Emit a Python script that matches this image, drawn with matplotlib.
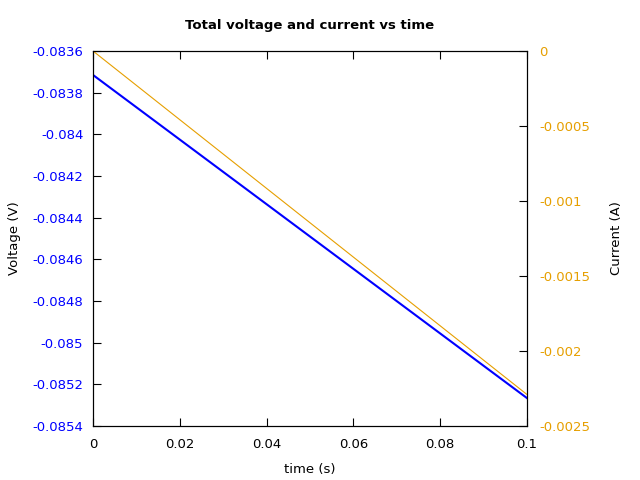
import matplotlib
matplotlib.use('Agg')
import matplotlib.pyplot as plt

# readings (straight lines)
time_s = [0.0, 0.1]
voltage_v = [-0.083715, -0.085266]
current_a = [0.0, -0.00229]

volt_ticks = [-0.0836, -0.0838, -0.084, -0.0842, -0.0844, -0.0846, -0.0848,
              -0.085, -0.0852, -0.0854]
curr_ticks = [0, -0.0005, -0.001, -0.0015, -0.002, -0.0025]
time_ticks = [0, 0.02, 0.04, 0.06, 0.08, 0.1]

blue = '#0000ff'
orange = '#e69f00'

fig = plt.figure(figsize=(6.4, 4.8), dpi=100)
ax = fig.add_axes([0.1453, 0.1125, 0.6781, 0.78125])
ax2 = ax.twinx()

ax.plot(time_s, voltage_v, color=blue, lw=1.5)
ax2.plot(time_s, current_a, color=orange, lw=0.8)

ax.set_xlim(0, 0.1)
ax.set_ylim(-0.0854, -0.0836)
ax2.set_ylim(-0.0025, 0)

ax.set_xticks(time_ticks)
ax.set_xticklabels(['0', '0.02', '0.04', '0.06', '0.08', '0.1'])
ax.set_yticks(volt_ticks)
ax.set_yticklabels([f'{v:g}' for v in volt_ticks])
ax2.set_yticks(curr_ticks)
ax2.set_yticklabels(['0', '-0.0005', '-0.001', '-0.0015', '-0.002', '-0.0025'])

ax.tick_params(axis='x', direction='in', top=True, length=6, pad=9, labelsize=9.5)
ax.tick_params(axis='y', direction='in', length=6, pad=7, labelsize=9.5, labelcolor=blue)
ax2.tick_params(axis='y', direction='in', length=6, pad=9, labelsize=9.5, labelcolor=orange)

ax.set_xlabel('time (s)', fontsize=9.5, labelpad=8)
ax.set_ylabel('Voltage (V)', fontsize=9.5, labelpad=8)
ax2.set_ylabel('Current (A)', fontsize=9.5, labelpad=14)
ax.set_title('Total voltage and current vs time', fontsize=9.5, fontweight='bold', pad=16)

plt.savefig('out.png', dpi=100)
